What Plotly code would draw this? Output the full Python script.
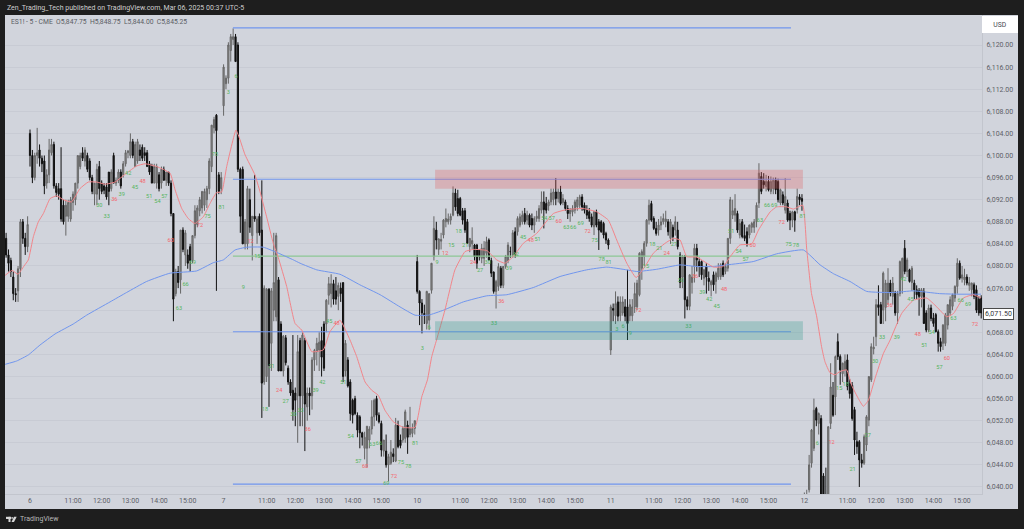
import plotly.graph_objects as go

# --- candle rows: open, high, low, close (one list per session, 5-minute bars) ---
session_prev = [
[6085,6086,6081.5,6082],[6082,6083,6079,6080.5],[6081,6081.5,6078,6079],[6078,6079,6073.8,6075],[6075,6076,6073.5,6074.8],
[6075.5,6080,6073.5,6079.5],[6079.5,6088.5,6078,6088],[6088,6088.5,6084,6085],[6085,6086,6082,6083.5],[6083.5,6089,6082.5,6087.5],
]
session_6 = [
[6104,6104.7,6098,6100],[6100,6101,6095,6096],[6096,6100.5,6095.5,6100],[6100,6105,6098.5,6100.5],[6101,6102,6098,6099.5],
[6099.5,6100,6097,6098.5],[6099,6100,6093,6094.5],[6095,6097.5,6094,6096.5],[6096.5,6103,6095,6101],[6100.5,6103,6100,6102],
[6102,6102.5,6094,6094.5],[6094.5,6095,6092.5,6093.3],[6094,6095,6092,6093],[6094,6101.5,6088,6088.5],[6091,6092,6087.5,6088],
[6089,6092,6085.5,6091],[6089,6092,6088,6091.5],[6088.5,6092.5,6088,6092],[6091.5,6093.5,6090,6093],[6092,6095,6091,6095],
[6095,6100,6094,6100],[6098,6100.5,6097.5,6100],[6100.5,6101.5,6099,6099.5],[6099,6101.5,6098,6101],[6100,6100.5,6097,6097.5],
[6099,6099.5,6095.5,6096],[6096,6096.5,6093,6093.5],[6093,6095,6091,6095],[6093,6098.5,6091,6097.5],[6098,6099,6092,6094],
[6095,6095.5,6093,6093.5],[6094.5,6095,6093,6093.7],[6094.3,6095,6092,6092.5],[6097,6097,6091,6093.5],[6094,6097.5,6093.5,6097],
[6100,6100.5,6095,6095],[6095,6096,6094.5,6095.5],[6095.5,6097.5,6095,6097],[6097,6097.5,6094,6094.5],[6096.5,6099,6096,6098.5],
[6098.5,6101,6098,6100.5],[6100.5,6101,6099.5,6100.8],[6100,6104,6099.5,6102.5],[6102.5,6103,6099.5,6100],[6098,6102.5,6098,6102],
[6099,6103,6098.5,6102.5],[6101,6102,6099,6100],[6101.5,6102,6099,6099.5],[6100.5,6101.5,6099,6100],[6100.5,6101,6098,6098],
[6098.5,6099,6096.5,6097],[6098,6098.5,6095,6095],[6095,6098.5,6095,6098],[6095,6098.5,6094,6098],[6096.5,6097,6093.5,6094],
[6095,6098,6094,6097.5],[6097.5,6098,6095.5,6095.5],[6095.5,6097,6094.5,6097],[6097,6097,6094.5,6095],[6095,6095.5,6089,6089.5],
[6089.5,6089.5,6070,6074],[6075,6079.5,6074.5,6079],[6079,6080,6076,6077],[6077.5,6086.5,6075,6086.5],[6086.5,6087,6082.5,6083],
[6082,6086.5,6080,6086],[6082,6083,6079.5,6080.5],[6083.5,6084,6079,6081],[6081,6085.5,6080.5,6085.5],[6085.5,6091,6085,6090],
[6087.5,6091,6087,6090.5],[6090,6092.5,6089,6092],[6090.5,6093.5,6089.5,6093.5],[6091,6094,6090,6093.5],[6092,6094.5,6090.5,6094],
[6094,6099.5,6093,6099],[6098,6105.5,6097,6105.5],[6105,6107,6104,6106.5],[6107.3,6107.5,6075.5,6104.5],[6096.5,6097,6093,6093.5],
[6094,6097,6093,6096],
]
session_7 = [
[6109,6116.5,6107.2,6116],[6113,6114.5,6112,6114],[6114,6120.5,6113,6120],[6119,6122,6117,6121.5],[6121,6123,6120,6121.5],
[6121.5,6122,6117,6117],[6120,6120.5,6097,6097.5],[6097.5,6097.8,6086,6089],[6097.5,6098,6084,6084],[6084,6088.5,6083,6088],
[6084,6094.5,6083,6094],[6092,6094,6086,6087],[6085.5,6089,6081,6089],[6089,6096.5,6088,6088.5],[6086,6089,6084,6088.5],
[6089,6089.5,6085.5,6086],[6086.5,6095.5,6052.5,6058.8],[6059,6076.5,6058.5,6076],[6060,6076,6059,6075.8],[6075.8,6076,6054.5,6062],
[6066,6076,6061,6075.5],[6072,6086,6070,6077],[6070.8,6086,6070,6085.5],[6077.5,6078,6061,6061],[6069.5,6070,6061,6061],
[6061,6067.5,6060,6067.3],[6067,6067.5,6062,6062.5],[6061.5,6062,6058.5,6059],[6059,6059.5,6056.5,6057],[6057.5,6067.5,6052,6054],
[6057,6058,6051,6055.7],[6056.5,6067.5,6048,6064.5],[6066.5,6067,6051,6056.5],[6056.5,6068,6051,6067.5],[6066.5,6067,6046.5,6055],
[6054.5,6058,6052,6057],[6057,6058,6053,6056.5],[6056.5,6063.5,6054,6063],[6063,6065,6061,6064.7],[6064.5,6067,6062,6066],
[6064.8,6068,6061,6066.2],[6066.5,6069,6060,6063.5],[6069.5,6070,6061,6061.5],[6069.5,6074,6068,6073.8],[6074.7,6078,6073,6076.8],
[6075,6078.5,6072.5,6076.8],[6076.8,6077.5,6073,6074],[6075.5,6078,6073,6074],[6074.5,6077,6072,6076.5],[6076,6077,6073.5,6075],
[6077,6077,6059,6060],[6061,6066.6,6060,6066],[6063,6063.5,6058,6058.3],[6059,6059.5,6052,6053.3],[6055.7,6056,6051.5,6053],
[6056,6056.5,6053,6053.3],[6053,6053.5,6049,6050.3],[6052.7,6053,6047,6049.8],[6049.8,6050,6047.5,6049],[6047,6050,6045,6049],
[6047,6051,6043.5,6051],[6048.5,6051,6047,6050.5],[6050.5,6055.7,6049.5,6052.7],[6052.7,6056,6051,6055.7],[6056,6056.5,6052,6053],
[6053,6053.5,6051.5,6051.8],[6051.5,6052,6045.5,6046.7],[6046.5,6048.5,6045.5,6048.5],[6046.5,6049.5,6043.5,6044],[6044,6046,6041,6045.5],
[6044.3,6048.5,6044,6046.3],[6046,6047,6044.5,6045.5],[6044.7,6052.5,6044.5,6051.2],[6051.2,6052,6047,6047.3],[6048.5,6049.5,6047,6047.5],
[6048.5,6051,6048,6050.6],[6048.8,6054,6048,6053.6],[6051.2,6052,6046,6049],[6049.5,6054.5,6049,6050.6],[6049.7,6051.5,6049,6050.6],
[6050.6,6052,6049.5,6052],
]
session_10 = [
[6080.8,6082,6075,6075.4],[6075.4,6075.6,6069.3,6073.3],[6073.3,6074,6067.8,6071.5],[6071.4,6073,6069.5,6071.2],[6069.6,6075.5,6068.5,6075.4],
[6070.2,6075,6068.4,6075],[6075.6,6080.5,6075,6080.5],[6081.7,6089,6081,6086.8],[6086.5,6088,6083,6084.7],[6083,6085,6082,6084.9],
[6084.5,6086,6083,6084.8],[6085.6,6088.5,6085,6088.3],[6088,6090.4,6087,6088.6],[6088,6089.5,6087.5,6088.5],[6088.3,6089.5,6087.5,6089],
[6089.2,6094.4,6089,6093.2],[6093.2,6094,6090,6090.7],[6092.2,6093.8,6089,6089.5],[6092.2,6092.5,6089,6089.2],[6090,6090.5,6087.5,6088.3],
[6090,6090.5,6086,6086.5],[6088,6088.5,6084,6084.1],[6083.5,6085,6082.5,6085],[6084,6087,6083,6084.6],[6083.8,6084,6081,6081.7],
[6083.8,6084,6079.5,6080.5],[6082.9,6083,6081,6081.7],[6081.4,6084,6080.5,6083.2],[6081.4,6084.5,6080,6083.2],[6082.3,6085.3,6081.5,6084.4],
[6084.7,6085,6081,6081.1],[6081,6081.5,6078,6078.7],[6078.9,6079,6075,6075.4],[6075.4,6077.5,6072.3,6077.2],[6076.3,6080.5,6075.5,6079.9],
[6079.6,6080,6076,6076.5],[6076.5,6080,6076,6079.9],[6079.9,6082,6079.5,6081.7],[6081,6084.3,6080.5,6083.8],[6082.6,6083.5,6081.5,6082.6],
[6082,6086.5,6081.5,6086],[6086.2,6087,6081.5,6082],[6086.2,6089,6085.5,6088.6],[6087.4,6089.5,6087,6088.9],[6088,6090,6087.5,6089.2],
[6089.5,6090.5,6087.5,6088],[6088.3,6090,6087.5,6089.2],[6089.2,6089.5,6087,6087.4],[6088.6,6089.5,6086.5,6087.4],[6087.4,6089,6086,6088.6],
[6088.6,6090,6088,6089],[6088.6,6091,6088,6090.4],[6090.1,6093.5,6089.5,6091.6],[6091.6,6093.5,6086.8,6090.2],[6091.3,6092.5,6089.5,6090.1],
[6090.9,6092,6090,6091.6],[6091.6,6094,6091,6093.2],[6092,6094,6091,6093.4],[6093.4,6095.9,6091,6092.2],[6092.2,6094,6091.5,6093.4],
[6093.4,6094.5,6091,6091.3],[6091.5,6093,6091,6092.2],[6091.6,6092,6090,6090.4],[6090.4,6091,6088.5,6089.5],[6089.5,6090.5,6088,6090.1],
[6089.8,6091,6089,6090.4],[6090.1,6092,6089.5,6091.6],[6090.7,6092.5,6090,6092],[6091,6092.9,6090.5,6092.5],[6092.5,6093,6090,6090.7],
[6091,6091.5,6089.5,6090.1],[6090.1,6091,6088.5,6089.2],[6089.8,6090.5,6088,6088.6],[6088.9,6089.5,6087,6087.4],[6087.1,6090,6085.6,6089.8],
[6089.8,6090.2,6087,6087.4],[6088,6088.5,6082.9,6086.5],[6088,6088.3,6086,6086.2],[6087.7,6088,6085,6085.6],[6085.9,6086.2,6084,6084.7],
[6084.7,6085,6083,6083.8],
]
session_11 = [
[6064.8,6073,6063.9,6072.6],[6072.3,6073.2,6070,6072],[6071,6075.4,6069.5,6073.2],[6073.5,6074.5,6070,6070.9],[6071,6074.5,6070,6073.5],
[6071.5,6074.5,6071,6073.5],[6072.6,6074,6070,6070.9],[6072.6,6079.3,6066.6,6069.6],[6071,6074,6070,6073],[6071,6074,6070,6072.6],
[6072.6,6077,6071.5,6075],[6072.6,6077.5,6072,6076.9],[6074.8,6082.5,6074.5,6082.3],[6079.6,6083,6077.5,6082.6],[6081.7,6084.5,6080,6084.1],
[6084.1,6088.5,6083.5,6088.3],[6088.3,6092,6087.5,6091],[6091.3,6091.8,6088,6088.3],[6088.6,6089,6086.5,6086.8],[6086.8,6088,6085.5,6085.9],
[6086.5,6088.5,6085.5,6087.4],[6087.4,6089,6086.5,6088],[6088,6089.5,6087.5,6088.6],[6088,6090,6087,6088.5],[6088,6088.5,6085.5,6086.2],
[6085,6088.5,6084,6088],[6087,6087.5,6084.5,6085.3],[6086.5,6089,6085.5,6088],[6086.5,6088,6083,6083.5],[6082,6082.5,6076,6077],
[6078,6082,6076,6081.7],[6081.7,6082,6070.5,6073.9],[6073.9,6074.5,6072,6072.7],[6072.7,6078.5,6072,6078.4],[6077,6080,6075,6078],
[6079.9,6084,6077,6083.2],[6083.2,6084,6079,6081.1],[6080.8,6081.5,6078,6080],[6080.8,6081,6077.5,6078.4],[6077.8,6079.5,6076.5,6079.3],
[6079.9,6080.5,6075,6078],[6077.8,6079,6075.5,6077.2],[6076.6,6077.5,6074.5,6077.2],[6078.4,6079,6075.5,6076.6],[6077.2,6079,6075,6078.7],
[6078,6080.5,6077.5,6079.6],[6078.1,6080.5,6077.5,6080.2],[6080.5,6081,6078,6078.4],[6079,6080.5,6078.5,6079.9],[6079.6,6085,6079,6085],
[6085,6092.5,6084,6092],[6089.2,6092,6088.5,6090],[6089.2,6093,6088,6090.4],[6089.5,6090,6086,6086.5],[6085.6,6088.5,6085,6087.7],
[6088,6088.5,6085,6085.3],[6085.5,6087.5,6084.5,6085],[6086.2,6087,6083.5,6084.1],[6085.6,6087.5,6085,6087.4],[6087,6088,6086,6087.7],
[6087,6088.5,6086,6088],[6088,6091.5,6087,6091],[6091.4,6098.6,6090.5,6096.8],[6096.2,6097,6093,6093.5],[6095.3,6096.8,6094,6094.7],
[6094.4,6096.5,6093.5,6095.3],[6095.3,6096.3,6093.5,6093.8],[6093.5,6096.2,6093,6095.3],[6094,6096,6093,6095.5],[6095.5,6096,6093,6093.8],
[6095.3,6095.8,6091.5,6092],[6091.4,6094,6091,6093.8],[6092.9,6093.5,6091,6091.4],[6090.1,6095.9,6089.5,6092.6],[6091.4,6092,6088,6088.3],
[6089.5,6090,6086.5,6088.3],[6088.3,6090,6087,6089.8],[6089.8,6090,6086.2,6088.3],[6090.2,6094,6089.5,6092.6],[6092.5,6093,6091,6092],
[6092.2,6093,6090,6091.7],
]
session_12 = [
[6034,6039,6032,6037],[6037,6039.5,6035,6038.5],[6039.5,6045.8,6039,6044],[6044.3,6050.5,6043.5,6050.3],[6047,6056,6046.5,6053.9],
[6054.2,6054.5,6051,6052.1],[6051.5,6053.5,6049.5,6053.3],[6052.4,6053,6032,6033],[6042,6042.5,6035,6036],[6038,6043.5,6035,6036],
[6036,6051,6035,6050.9],[6051.5,6062.4,6050.5,6058.1],[6056.6,6059,6052.7,6053],[6056.3,6063.8,6053,6063.6],[6066.3,6067.8,6063,6063.6],
[6063.6,6064,6058.5,6061.2],[6060.5,6062.5,6059,6062.4],[6061.2,6064,6060,6062.7],[6063,6064,6057.5,6058.2],[6058.7,6059.5,6056,6056.9],
[6058.4,6059,6052,6052.4],[6054,6054.5,6045.8,6048.5],[6048.2,6050,6046,6047.3],[6048.2,6048.5,6040,6044.9],[6044.9,6046,6043.5,6044.3],
[6044.3,6049.5,6044,6049.1],[6047.6,6053,6046.5,6052.7],[6052.1,6060,6051,6060],[6059.4,6066,6059,6065.4],[6065,6067.2,6064,6065.3],
[6067.2,6074,6065.5,6073],[6073,6076.5,6071,6072.5],[6073,6073.5,6069.5,6069.6],[6072,6079,6069.5,6078.7],[6072.5,6077.5,6070,6076.9],
[6073.9,6079.6,6073,6076.9],[6076.9,6077.5,6074.5,6075.1],[6074.5,6078,6073,6076.9],[6075,6075.5,6071,6071.5],[6071.5,6075.5,6069.5,6075],
[6075,6081,6074.5,6080.8],[6077.8,6081.5,6075,6081.4],[6083.2,6084.7,6078.5,6079],[6079,6081.5,6078,6081.1],[6079.3,6079.5,6077,6077.2],
[6077,6080,6075.5,6079.6],[6076.9,6077.5,6074,6075.7],[6075.7,6076.5,6074,6074.8],[6075.5,6076,6071,6074.5],[6074.5,6076,6072.5,6075.7],
[6075.4,6076,6069.5,6069.6],[6071.5,6072,6068,6068.4],[6068.4,6073,6068,6072.4],[6072.4,6073,6070,6070.5],[6070.6,6071.5,6069,6069.6],
[6071.2,6071.5,6068,6068.1],[6068.1,6068.5,6064.5,6066],[6066.3,6067,6064.5,6065.4],[6066,6069.5,6064.8,6069.3],[6066,6071.5,6065.5,6071.1],
[6069.3,6073,6068.5,6073],[6071.5,6074.5,6071,6073.9],[6072.7,6075,6072,6074.8],[6074.2,6076.5,6073.5,6076.3],[6076.3,6081.4,6075,6080.5],
[6080.5,6081,6077.5,6077.8],[6077.8,6080,6077,6078.4],[6077.5,6079.5,6076.5,6078],[6078,6078.5,6076.5,6076.9],[6076.5,6078,6075.5,6077],
[6075.7,6077,6074.5,6076.9],[6076.6,6077,6074,6074.5],[6075.7,6076.5,6071.5,6072],[6074,6074.5,6071,6071.5],[6074.2,6074.7,6070.5,6071.5],
]

# --- moving averages, read at bar numbers ---
red_ma_x = [-10.4,-7.5,-5,-2.5,-0.7,1.4,3.5,5.6,8.4,11.2,13.9,17.4,20.9,24.4,27.9,31.4,35.6,40.4,44.6,48.1,53,58.6,60.7,63.5,66.2,69,72.5,75.3,78.1,80.2,82.3,86.2,87.9,90,94.1,96.2,99,101.8,103.9,107.4,110.9,113.7,117.9,122.7,125.5,129.7,133.9,136.7,140.2,143,145.7,148.5,152,156.2,161.1,163.9,166.3,168.1,170.1,173.6,177.8,182,185.5,191.1,195.3,198.7,202.2,206.4,212,219,224.5,231.5,237.1,242,245.5,249.7,253.6,257.3,260.8,265.7,269.2,272,274.8,279,286,290,293,297,302,304.8,309.7,312.4,316.6,319.4,323.3,325,327,329.1,331.2,332.6,334.7,336.8,338.9,341.7,343.8,346.6,348.7,350.8,353.6,357.1,359.9,364.7,369.6,375.2,379.4,383.6,386.4,390.5,394.6,397.9]
red_ma_y = [6078.3,6079.2,6078.5,6080,6081.1,6085.3,6088,6089.5,6092.2,6092.7,6092,6091.6,6094,6095.2,6095.2,6094.8,6095.2,6096.8,6098.1,6098.5,6098,6096.8,6093.8,6090.4,6088.6,6087.7,6088.9,6091.3,6093.3,6093.4,6098,6104.6,6102.8,6100.1,6096.5,6093.5,6088.9,6084.1,6081.5,6076.3,6069.6,6068.4,6064.5,6064.8,6068.1,6070.2,6066.6,6063.6,6059,6057.5,6056.6,6053.9,6051.8,6050.8,6050.8,6056.3,6059.4,6063.6,6066.6,6072,6079.3,6082.6,6083,6082.8,6081.1,6080.5,6081.7,6084.1,6085.9,6089.5,6090.2,6090.4,6089.8,6088.3,6084.7,6080.5,6077.9,6079.9,6082.3,6084.1,6085,6084.7,6081.7,6081.6,6079.8,6079.9,6081.7,6083.8,6084,6086.5,6089.8,6090.7,6090.7,6090.3,6091,6083,6075,6071,6065.4,6062.7,6060.7,6060.3,6060.9,6061.2,6058.4,6056,6054.6,6055.7,6059.7,6064.2,6066.6,6071.4,6073.8,6074.2,6072.6,6070.8,6071.4,6074.2,6074.8,6074.2]
blue_ma_x = [-10.4,-5.6,-0.7,4.2,10.5,18.1,23.7,33.5,40.4,48.8,58.6,69.7,76.7,80.9,85.8,90.7,97.6,104.6,110.2,113,120,129.7,138,146.5,154.8,161.1,166.7,173,181.3,191.1,199.5,210.6,221.8,232.9,241.3,249.7,253.9,262.2,272,279,286,291.5,302.6,312.4,323.6,330.6,336.2,343.1,350.1,361.2,369.6,380.6,387.6,397.9]
blue_ma_y = [6062.2,6062.8,6063.9,6065.7,6067.7,6069.5,6071.1,6073.5,6075.2,6077.2,6078.7,6079.1,6080.6,6081.1,6082.9,6083.4,6083.4,6082.2,6081.1,6080.5,6079.3,6078.5,6076.6,6074.8,6072.6,6071.1,6071.1,6072,6073.5,6074.6,6074.8,6076.1,6078.1,6079.3,6079.8,6079.3,6079,6079.4,6080.2,6079.9,6079.9,6080.2,6080.8,6082.2,6082.9,6080.2,6078.6,6077.2,6075.4,6075.2,6075.5,6075,6074.9,6074.9]

# --- session bar counters printed on the chart ---
green_x = [83,86.2,89.3,95.1,98.3,101.1,107,110.2,113.2,119.5,122.3,125.2,131.1,134.2,137.4,143.2,146,149.1,155.2,158.3,161.2,29,32.1,38.4,41.1,43.9,49.9,53.3,56.2,62.3,65.1,68.1,74.3,77.4,80.2,164.2,167.1,170.3,176.3,179.4,182.1,188.3,191.5,194.1,200.4,203.3,206.3,212.4,215.2,218.3,224.4,227.3,230.4,236.3,239.2,242.1,245.5,248.2,251.2,257.7,260.4,263.3,269.4,272.3,275.5,281.3,284.2,287.3,293.4,296.5,299.4,305.4,308.4,311.4,317.4,320.5,323.3,329.4,338.6,341.3,344.2,350.5,353.6,356.5,362.7,365.4,368.4,374.2,377.3,380.5,386.4,389.4,392.5]
green_y = [6111.4,6114.3,6076,6081.7,6054,6061.7,6055.4,6053.1,6053.8,6057.5,6058.9,6070,6058.9,6049.1,6044.6,6047.6,6047.9,6040.7,6044.4,6043.6,6047.9,6091,6088.9,6093,6096.8,6094.2,6092.5,6091.6,6092.5,6072.3,6076.6,6080.6,6089,6100.1,6090.6,6065.1,6068.8,6080.6,6083.6,6086.3,6083.6,6079.1,6080.6,6069.6,6079.6,6082.1,6085.1,6084.8,6088.6,6088.6,6086.9,6086.9,6087.6,6084.6,6081.1,6080.6,6068.4,6069.1,6067.8,6079.8,6083.8,6083.2,6083.8,6077.3,6069.1,6075.2,6073.9,6072.6,6086.3,6082.6,6081.1,6088.3,6091,6090.9,6083.8,6083.6,6088.9,6047.9,6057.8,6058.6,6043.1,6049.3,6062.7,6067.1,6067.1,6077.6,6073.9,6065.6,6067.9,6061.6,6070.5,6073.8,6073.1]
green_text = ["3","6","9","15","18","21","27","30","33","39","42","45","51","54","57","63","66","69","75","78","81","30","33","39","42","45","51","54","57","63","66","69","75","78","81","3","6","9","15","18","21","27","30","33","39","42","45","51","54","57","63","66","69","75","78","81","3","6","9","15","18","21","27","30","33","39","42","45","51","54","57","63","66","69","75","78","81","6","15","18","21","27","30","33","39","42","45","51","54","57","63","66","69"]
red_x = [92.3,104.3,116.2,128.3,140.2,152.3,35.3,47.1,58.9,71.1,173.7,185.4,197.2,209.5,221.2,233.3,254.5,266.4,278.2,290.4,302.4,314.5,335.4,359.6,371.4,383.6,395.4]
red_y = [6084.4,6057.4,6050.3,6069.6,6043.6,6041.9,6092,6095.2,6084.6,6087.4,6082.2,6080.6,6073.6,6084.6,6088,6086.3,6071.9,6082.3,6078.1,6075.7,6083.6,6087.9,6048,6072.8,6067.5,6063.3,6069.4]
red_text = ["12","24","36","48","60","72","36","48","60","72","12","24","36","48","60","72","12","24","36","48","60","72","12","36","48","60","72"]

# --- drawn levels and zones ---
blue_levels = [6123.1,6095.7,6068.1,6040.5]
green_level = [6081.8]
level_span = [84.9,318.4]
zone_span = [169.5,323.4]
red_zone = [6094,6097.4]
teal_zone = [6066.6,6070]

# --- axes ---
price_ticks = [6040,6044,6048,6052,6056,6060,6064,6068,6072,6076,6080,6084,6088,6092,6096,6100,6104,6108,6112,6116,6120]
time_ticks = [0,18,30,42,54,66,81,99,111,123,135,147,162,180,192,204,216,228,243,261,273,285,297,309,324,342,354,366,378,390]
time_labels = ["6","11:00","12:00","13:00","14:00","15:00","7","11:00","12:00","13:00","14:00","15:00","10","11:00","12:00","13:00","14:00","15:00","11","11:00","12:00","13:00","14:00","15:00","12","11:00","12:00","13:00","14:00","15:00"]

rows = session_prev + session_6 + session_7 + session_10 + session_11 + session_12
bar_x = list(range(-10, len(rows) - 10))

DARK = "#1e1e1e"
PANEL = "#d1d4dc"
AXIS_TEXT = "#5d6067"
FONT = "Roboto"
L, R, T, B = 5, 982, 15, 494

def px(x):
    return (x - L) / (R - L)

def py(y):
    return (B - y) / (B - T)

fig = go.Figure()
for price in blue_levels:
    fig.add_trace(go.Scatter(x=level_span, y=[price, price], mode="lines", line=dict(color="#7196ee", width=1.2), hoverinfo="skip"))
fig.add_trace(go.Scatter(x=level_span, y=green_level * 2, mode="lines", line=dict(color="#8cc795", width=1.2), hoverinfo="skip"))
fig.add_trace(go.Scatter(x=blue_ma_x, y=blue_ma_y, mode="lines", line=dict(color="#7196ee", width=1, shape="spline", smoothing=0.4), hoverinfo="skip"))
fig.add_trace(go.Candlestick(
    x=bar_x, open=[r[0] for r in rows], high=[r[1] for r in rows], low=[r[2] for r in rows], close=[r[3] for r in rows],
    increasing=dict(line=dict(color="#666666", width=1), fillcolor="#8c8c8c"),
    decreasing=dict(line=dict(color="#111111", width=1), fillcolor="#111111"),
    whiskerwidth=0, hoverinfo="skip",
))
fig.add_trace(go.Scatter(x=red_ma_x, y=red_ma_y, mode="lines", line=dict(color="#f2858a", width=1, shape="spline", smoothing=0.4), hoverinfo="skip"))
fig.add_trace(go.Scatter(x=green_x, y=green_y, text=green_text, mode="text", textfont=dict(family=FONT, size=5.6, color="#55b560"), textposition="middle center", hoverinfo="skip"))
fig.add_trace(go.Scatter(x=red_x, y=red_y, text=red_text, mode="text", textfont=dict(family=FONT, size=5.6, color="#f4666c"), textposition="middle center", hoverinfo="skip"))

LOGO = "#d8d8d8"
shapes = [
    dict(type="rect", xref="paper", yref="paper", x0=px(5), x1=px(1018), y0=py(509), y1=py(15), fillcolor=PANEL, line=dict(width=0), layer="below"),
    dict(type="rect", xref="x", yref="y", x0=zone_span[0], x1=zone_span[1], y0=red_zone[0], y1=red_zone[1], fillcolor="rgba(225,85,90,0.28)", line=dict(width=0), layer="above"),
    dict(type="rect", xref="x", yref="y", x0=zone_span[0], x1=zone_span[1], y0=teal_zone[0], y1=teal_zone[1], fillcolor="rgba(40,150,135,0.28)", line=dict(width=0), layer="above"),
    dict(type="rect", xref="paper", yref="paper", x0=px(6), x1=px(11), y0=py(519), y1=py(516.8), fillcolor=LOGO, line=dict(width=0)),
    dict(type="rect", xref="paper", yref="paper", x0=px(8.5), x1=px(10.5), y0=py(522), y1=py(516.8), fillcolor=LOGO, line=dict(width=0)),
    dict(type="circle", xref="paper", yref="paper", x0=px(11.3), x1=px(13), y0=py(518.8), y1=py(517), fillcolor=LOGO, line=dict(width=0)),
    dict(type="path", xref="paper", yref="paper", path=f"M {px(11.5)} {py(522)} L {px(14)} {py(516.8)} L {px(16.7)} {py(516.8)} L {px(14)} {py(522)} Z", fillcolor=LOGO, line=dict(width=0)),
]

def note(text, x, y, size, color, anchor="left", **kw):
    return dict(text=text, xref="paper", yref="paper", x=px(x), y=py(y), xanchor=anchor, yanchor="middle",
                showarrow=False, font=dict(family=FONT, size=size, color=color), **kw)

annotations = [
    note("Zen_Trading_Tech published on TradingView.com, Mar 06, 2025 00:37 UTC-5", 5, 8, 7, "#cfcfcf"),
    note("ES1! - 5 - CME&nbsp;&nbsp;O5,847.75&nbsp;&nbsp;H5,848.75&nbsp;&nbsp;L5,844.00&nbsp;&nbsp;C5,845.25", 9, 22.5, 6.75, "#5a5d64"),
    note("USD", 1000, 24.5, 6.8, "#44474e", anchor="center", bgcolor="#ffffff", bordercolor="#ffffff", borderpad=3, width=28, height=9),
    note("6,071.50", 999, 314, 7, "#33363c", anchor="center", bgcolor="#ffffff", bordercolor="#4a4a4a", borderwidth=1, borderpad=1),
    note("TradingView", 18, 519, 7, "#b8b8b8"),
]

fig.update_layout(
    width=1024, height=529, autosize=False, showlegend=False,
    margin=dict(l=L, r=1024 - R, t=T, b=529 - B),
    paper_bgcolor=DARK, plot_bgcolor=PANEL, shapes=shapes, annotations=annotations,
    xaxis=dict(range=[-10.46, 398.33], tickmode="array", tickvals=time_ticks, ticktext=time_labels, showgrid=False, zeroline=False,
               rangeslider=dict(visible=False), ticks="", showline=True, linecolor="#c2c5cd", linewidth=1,
               tickfont=dict(family=FONT, size=7, color=AXIS_TEXT)),
    yaxis=dict(range=[6038.73, 6125.43], side="right", tickmode="array", tickvals=price_ticks,
               ticktext=[f"{v:,.2f}" for v in price_ticks], showgrid=True, gridcolor="#c8cbd4", gridwidth=1, zeroline=False,
               ticks="", ticklabelstandoff=2, showline=True, linecolor="#c2c5cd", linewidth=1, tickfont=dict(family=FONT, size=7, color=AXIS_TEXT)),
)
fig.write_html("out.html", post_script="document.body.style.margin='0';document.documentElement.style.background='#1e1e1e';", config={"displayModeBar": False})
